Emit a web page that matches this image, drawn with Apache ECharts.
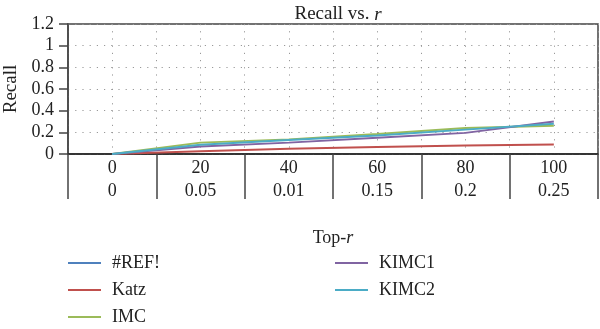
<!DOCTYPE html>
<html><head><meta charset="utf-8">
<script src="https://cdn.jsdelivr.net/npm/echarts@6/dist/echarts.min.js"></script>
<style>html,body{margin:0;padding:0;background:#fff}#c{width:600px;height:329px}</style>
</head><body><div id="c"></div>
<script>
var topR = ['0', '20', '40', '60', '80', '100'];
var ratio = ['0', '0.05', '0.01', '0.15', '0.2', '0.25'];
var seriesNames = ['#REF!', 'Katz', 'IMC', 'KIMC1', 'KIMC2'];
var refVals = [];
var katzVals = [0, 0.025, 0.048, 0.065, 0.078, 0.088];
var imcVals = [0, 0.105, 0.135, 0.185, 0.24, 0.26];
var kimc1Vals = [0, 0.07, 0.105, 0.15, 0.195, 0.30];
var kimc2Vals = [0, 0.085, 0.13, 0.17, 0.225, 0.28];
var colors = ['#4F81BD', '#C0504D', '#9BBB59', '#8064A2', '#4BACC6'];

var FONT = 'Liberation Serif';
var cats = topR.map(function (t, i) { return t + '\n' + ratio[i]; });
var allVals = [refVals, katzVals, imcVals, kimc1Vals, kimc2Vals];

var chart = echarts.init(document.getElementById('c'));
chart.setOption({
  animation: false,
  color: colors,
  textStyle: { fontFamily: FONT, color: '#222' },
  title: {
    text: '{a|Recall vs. }{b|r}',
    left: 333, top: 0, textAlign: 'center',
    textStyle: {
      fontWeight: 'normal',
      rich: {
        a: { fontFamily: FONT, fontSize: 19, fontWeight: 'normal', color: '#222' },
        b: { fontFamily: FONT, fontSize: 19, fontWeight: 'normal', fontStyle: 'italic', color: '#222' }
      }
    }
  },
  grid: { left: 68, right: 2, top: 24, bottom: 175, show: true, borderColor: '#444', borderWidth: 1.5, outerBoundsMode: 'none', containLabel: false },
  xAxis: [{
    type: 'category', data: cats, boundaryGap: true,
    axisLine: { lineStyle: { color: '#222', width: 1.5 } },
    axisTick: { show: true, length: 45, lineStyle: { color: '#444', width: 1.5 } },
    axisLabel: { fontFamily: FONT, fontSize: 18, color: '#222', lineHeight: 23, margin: 3, interval: 0 },
    splitLine: { show: false },
    name: '{a|Top-}{b|r}', nameLocation: 'middle', nameGap: 75,
    nameTextStyle: {
      rich: {
        a: { fontFamily: FONT, fontSize: 18, color: '#222' },
        b: { fontFamily: FONT, fontSize: 18, fontStyle: 'italic', color: '#222' }
      }
    }
  }, {
    type: 'value', min: 0, max: 12, interval: 1, position: 'top',
    axisLine: { show: false }, axisTick: { show: false }, axisLabel: { show: false },
    splitLine: { show: true, lineStyle: { color: '#999', type: [1.2, 6], width: 1 } }
  }],
  yAxis: {
    type: 'value', min: 0, max: 1.2, interval: 0.2,
    axisLine: { show: true, lineStyle: { color: '#444', width: 1.5 } },
    axisTick: { show: true, length: 9, lineStyle: { color: '#444', width: 1.5 } },
    axisLabel: { fontFamily: FONT, fontSize: 18, color: '#222', margin: 14,
      formatter: function (v) { return String(Math.round(v * 10) / 10); } },
    splitLine: { show: true, lineStyle: { color: '#999', type: [1.2, 6], width: 1 } },
    name: 'Recall', nameLocation: 'middle', nameGap: 41,
    nameTextStyle: { fontFamily: FONT, fontSize: 19, color: '#222' }
  },
  legend: [{
    data: seriesNames.slice(0, 3), orient: 'vertical', left: 68, top: 250,
    icon: 'rect', itemWidth: 33, itemHeight: 2, itemGap: 1, padding: 0, height: 80,
    textStyle: { fontFamily: FONT, fontSize: 18, color: '#222', lineHeight: 26, padding: [0, 0, 0, 6] }
  }, {
    data: seriesNames.slice(3), orient: 'vertical', left: 335, top: 250,
    icon: 'rect', itemWidth: 33, itemHeight: 2, itemGap: 1, padding: 0, height: 80,
    textStyle: { fontFamily: FONT, fontSize: 18, color: '#222', lineHeight: 26, padding: [0, 0, 0, 6] }
  }],
  series: seriesNames.map(function (n, i) {
    return {
      name: n, type: 'line', data: allVals[i], xAxisIndex: 0,
      showSymbol: false, symbol: 'none', smooth: false,
      lineStyle: { width: 2, color: colors[i] }, z: 3 + i
    };
  })
});
</script></body></html>
